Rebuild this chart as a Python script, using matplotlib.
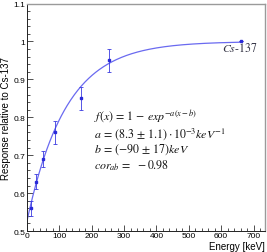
import numpy as np
import matplotlib
matplotlib.use("Agg")
import matplotlib.pyplot as plt
from matplotlib.ticker import MultipleLocator

# Data
energy = [14, 28, 50, 86, 166, 254, 662]
response = [0.56, 0.63, 0.69, 0.76, 0.85, 0.95, 1.00]
err = [0.02, 0.02, 0.02, 0.03, 0.03, 0.03, 0.0]
fit_a = 8.3e-3
fit_b = -90.0
fit_range = [0, 662]

plt.rcParams['font.family'] = ['Liberation Sans', 'DejaVu Sans']
plt.rcParams['mathtext.fontset'] = 'stix'

fig = plt.figure(figsize=(2.67, 2.53), dpi=100)
ax = fig.add_axes([0.101, 0.083, 0.891, 0.899])

xf = np.linspace(fit_range[0], fit_range[1], 300)
yf = 1 - np.exp(-fit_a * (xf - fit_b))
ax.plot(xf, yf, color='#6a6af0', lw=0.9, zorder=2)

ax.errorbar(energy, response, yerr=err, fmt='s', ms=1.8, color='#2a2ad8',
            ecolor='#3a3ae0', elinewidth=0.6, capsize=1.3, capthick=0.6, zorder=3)

ax.set_xlim(0, 735)
ax.set_ylim(0.5, 1.1)
ax.xaxis.set_major_locator(MultipleLocator(100))
ax.xaxis.set_minor_locator(MultipleLocator(20))
ax.yaxis.set_major_locator(MultipleLocator(0.1))
ax.yaxis.set_minor_locator(MultipleLocator(0.02))
ax.yaxis.set_major_formatter(plt.FuncFormatter(lambda v, p: f"{v:g}"))
ax.tick_params(which='both', direction='in', top=False, right=False,
               labelsize=6, pad=1, width=0.6, color='#333333')
ax.tick_params(which='major', length=4)
ax.tick_params(which='minor', length=2)
for s in ['left', 'bottom']:
    ax.spines[s].set_color('#222222')
    ax.spines[s].set_linewidth(0.7)
for s in ['top', 'right']:
    ax.spines[s].set_color('#9a9a9a')
    ax.spines[s].set_linewidth(1.0)

ax.set_ylabel('Response relative to Cs-137', fontsize=7, labelpad=2)
ax.set_xlabel('Energy [keV]', fontsize=7, labelpad=1)
ax.xaxis.set_label_coords(1.0, -0.045)
ax.xaxis.label.set_horizontalalignment('right')

ax.text(657, 0.984, r'$Cs\text{-}137$', fontsize=8.5, color='#333344', ha='center', va='center')

tc = '#111111'
fs = 8.6
x0 = 208
ax.text(x0, 0.804, r'$f(x)\,=\,1\,-\,exp^{-a(x-b)}$', fontsize=fs, color=tc, va='center')
ax.text(x0, 0.758, r'$a\,=\,(8.3\,\pm\,1.1)\cdot 10^{-3}keV^{-1}$', fontsize=fs, color=tc, va='center')
ax.text(x0, 0.716, r'$b\,=\,(-90\,\pm\,17)keV$', fontsize=fs, color=tc, va='center')
ax.text(x0, 0.675, r'$cor_{ab}\,=\;\,-0.98$', fontsize=fs, color=tc, va='center')

fig.savefig('out.png', dpi=100)
